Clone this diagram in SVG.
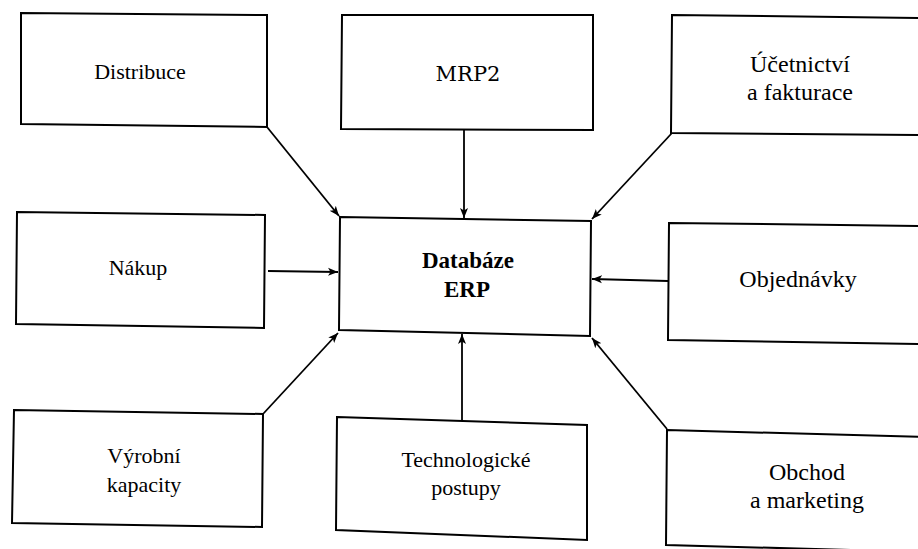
<svg xmlns="http://www.w3.org/2000/svg" width="918" height="549" viewBox="0 0 918 549">
  <style>
    .box { fill: #fff; stroke: #000; stroke-width: 2; stroke-linejoin: miter; }
    .lbl { font-family: "Liberation Serif", "Times New Roman", serif; font-size: 22px; fill: #000; text-anchor: middle; }
    .big { font-size: 24px; }
    .bold { font-weight: bold; font-size: 23px; }
    .conn { stroke: #000; stroke-width: 1.8; fill: none; marker-end: url(#arrow); }
  </style>
  <defs>
    <marker id="arrow" viewBox="0 0 10 10" refX="10" refY="5" markerWidth="10" markerHeight="10" markerUnits="userSpaceOnUse" orient="auto">
      <path d="M0,1 L10,5 L0,9 L2.5,5 Z" fill="#000"/>
    </marker>
  </defs>
  <rect width="918" height="549" fill="#fff"/>

  <g id="connectors">
    <line class="conn" x1="267" y1="127" x2="339" y2="216"/>
    <line class="conn" x1="464" y1="130" x2="464" y2="218"/>
    <line class="conn" x1="672" y1="133" x2="592" y2="219"/>
    <line class="conn" x1="268" y1="271" x2="338" y2="272"/>
    <line class="conn" x1="668" y1="281" x2="592" y2="279"/>
    <line class="conn" x1="263" y1="414" x2="338" y2="333"/>
    <line class="conn" x1="462" y1="420" x2="462" y2="334"/>
    <line class="conn" x1="667" y1="429" x2="592" y2="338"/>
  </g>

  <g id="distribuce">
    <polygon class="box" points="21,13 267,15 267,127 21,124"/>
    <text class="lbl" x="140" y="79">Distribuce</text>
  </g>
  <g id="mrp2">
    <polygon class="box" points="342,15 593,15 593,130 341,129"/>
    <text class="lbl" x="468" y="81" style="font-family:'DejaVu Serif','Liberation Serif',serif;font-size:21px">MRP2</text>
  </g>
  <g id="ucetnictvi">
    <polygon class="box" points="672,15 925,18 925,135 671,133"/>
    <text class="lbl big" x="800" y="72">Účetnictví</text>
    <text class="lbl big" x="800" y="100">a fakturace</text>
  </g>
  <g id="nakup">
    <polygon class="box" points="17,212 265,215 264,328 16,324"/>
    <text class="lbl" x="138" y="275">Nákup</text>
  </g>
  <g id="databaze">
    <polygon class="box" points="340,217 591,221 590,336 339,330"/>
    <text class="lbl bold" x="468" y="268">Databáze</text>
    <text class="lbl bold" x="467" y="297">ERP</text>
  </g>
  <g id="objednavky">
    <polygon class="box" points="669,223 925,226 925,344 668,340"/>
    <text class="lbl big" x="798" y="287">Objednávky</text>
  </g>
  <g id="vyrobni">
    <polygon class="box" points="14,410 263,414 262,527 12,523"/>
    <text class="lbl" x="144" y="463">Výrobní</text>
    <text class="lbl" x="144" y="492">kapacity</text>
  </g>
  <g id="technologicke">
    <polygon class="box" points="337,417 587,425 587,540 336,530"/>
    <text class="lbl" x="466" y="467">Technologické</text>
    <text class="lbl" x="466" y="495">postupy</text>
  </g>
  <g id="obchod">
    <polygon class="box" points="667,430 925,437 925,552 666,545"/>
    <text class="lbl big" x="807" y="480">Obchod</text>
    <text class="lbl big" x="807" y="508">a marketing</text>
  </g>
</svg>
